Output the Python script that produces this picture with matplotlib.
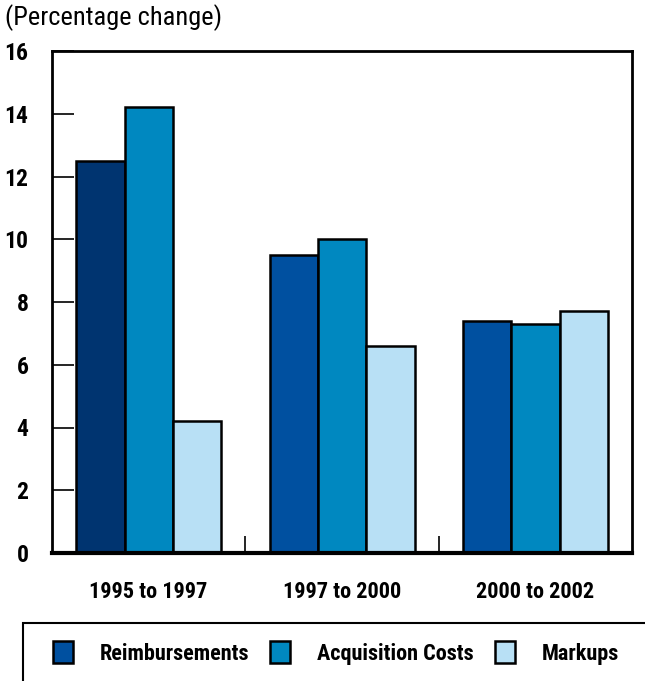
import matplotlib.pyplot as plt
import matplotlib.patches as mpatches
import numpy as np

plt.rcParams['font.family'] = ['Roboto Condensed', 'DejaVu Sans']

periods = ['1995 to 1997', '1997 to 2000', '2000 to 2002']
series = ['Reimbursements', 'Acquisition Costs', 'Markups']
reimb = [12.5, 9.5, 7.4]
acq = [14.2, 10.0, 7.3]
markups = [4.2, 6.6, 7.7]
colors = ['#0050a0', '#0088c0', '#b8e0f5']

fig = plt.figure(figsize=(6.45, 6.81), dpi=100)
ax = fig.add_axes([52/645, 1 - 553/681, 580/645, 502/681])

x = np.arange(len(periods))
w = 0.25
bars = ax.bar(x - w, reimb, w, color=colors[0], edgecolor='black', linewidth=1.8)
bars[0].set_facecolor('#003470')
ax.bar(x, acq, w, color=colors[1], edgecolor='black', linewidth=1.8)
ax.bar(x + w, markups, w, color=colors[2], edgecolor='black', linewidth=1.8)

ax.set_xlim(-0.5, 2.5)
ax.set_ylim(0, 16)
ax.set_yticks(range(0, 17, 2))
ax.set_xticks(x)
ax.set_xticklabels(periods, fontsize=16, fontweight='bold')
ax.set_xticks([0.5, 1.5], minor=True)
ax.tick_params(axis='x', which='major', length=0, pad=20)
ax.tick_params(axis='x', which='minor', direction='in', length=12, width=1.2)
ax.tick_params(axis='y', direction='in', length=16, width=1.2, labelsize=17, pad=17)
for lab in ax.get_yticklabels():
    lab.set_fontweight('bold')
for s in ax.spines.values():
    s.set_linewidth(2)
ax.spines['bottom'].set_linewidth(3)

fig.text(5/645, 1 - 18/681, '(Percentage change)', fontsize=19, va='center', ha='left')

# legend box running off the page
rect = mpatches.Rectangle((23/645, -0.05), 1.1, 1 - 623/681 + 0.05, transform=fig.transFigure,
                          fill=False, edgecolor='black', linewidth=1.5, clip_on=False)
fig.patches.append(rect)
handles = [mpatches.Patch(facecolor=c, edgecolor='black', linewidth=1.8) for c in colors]
leg = fig.legend(handles, series, loc='center left', bbox_to_anchor=(53/645, 1 - 653/681),
                 ncol=3, frameon=False, prop={'size': 16, 'weight': 'bold'},
                 handlelength=0.9, handleheight=1.08, columnspacing=0.95, handletextpad=1.2,
                 borderpad=0, borderaxespad=0)

fig.savefig('out.png', dpi=100)
